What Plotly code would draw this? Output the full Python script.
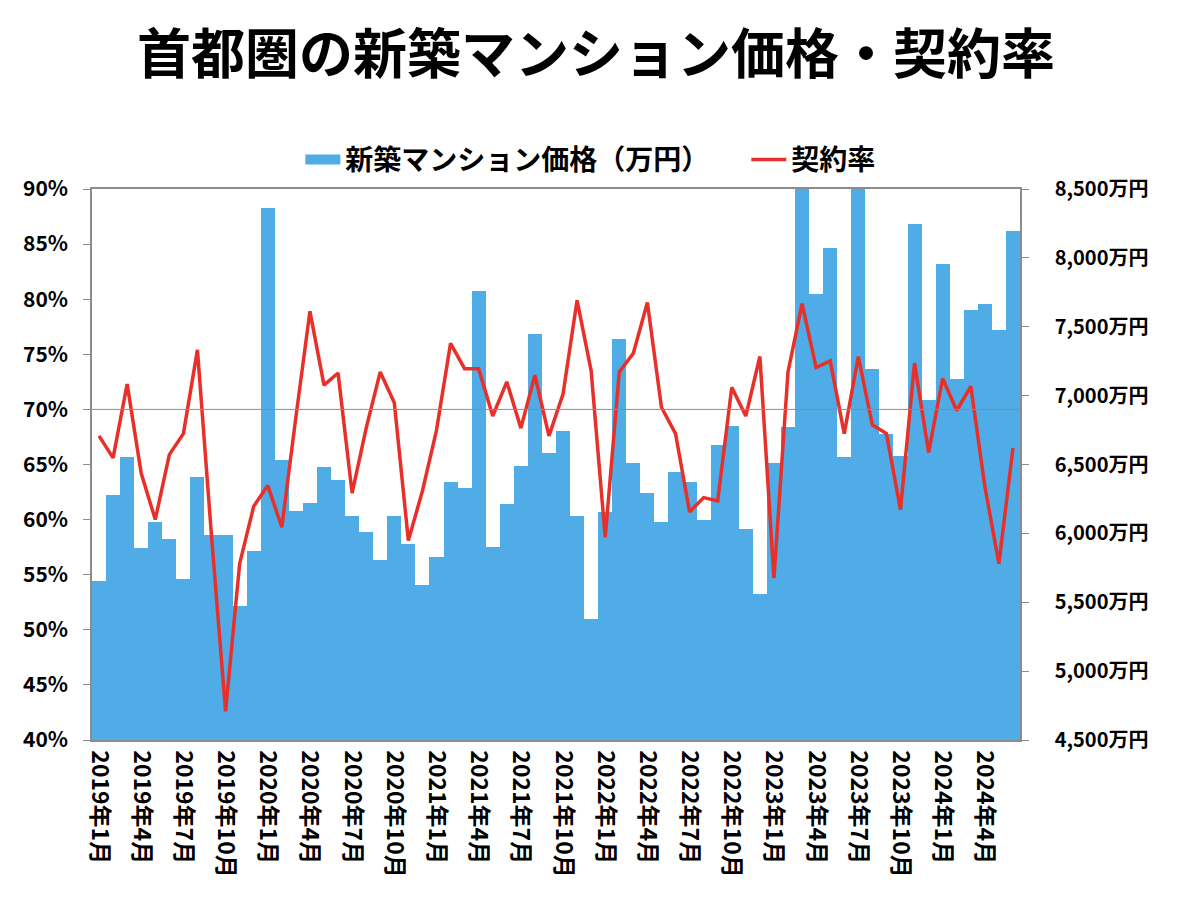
import plotly.graph_objects as go

# ---- data ----
YEARS = [2019, 2020, 2021, 2022, 2023, 2024]
MONTHS_IN_LAST_YEAR = 6
CATEGORIES = [f"{y}年{m}月" for y in YEARS for m in range(1, 13)][: 12 * 5 + MONTHS_IN_LAST_YEAR]

PRICE = [
    5655, 6281, 6553, 5895, 6085, 5958, 5670, 6408, 5990, 5990, 5470, 5874,  # 2019
    8363, 6532, 6159, 6217, 6481, 6386, 6127, 6011, 5808, 6125, 5921, 5623,  # 2020
    5826, 6376, 6328, 7758, 5900, 6215, 6489, 7446, 6582, 6746, 6125, 5380,  # 2021
    6157, 7411, 6513, 6291, 6085, 6447, 6376, 6098, 6645, 6783, 6032, 5557,  # 2022
    6513, 6772, 12962, 7739, 8072, 6553, 8873, 7190, 6725, 6561, 8244, 6968,  # 2023
    7953, 7124, 7625, 7663, 7480, 8196,                                        # 2024
]
RATE = [
    67.6, 65.6, 72.3, 64.2, 60.0, 65.9, 67.8, 75.4, 58.5, 42.6, 56.0, 61.2,  # 2019
    63.1, 59.3, 69.3, 78.9, 72.2, 73.3, 62.4, 68.3, 73.4, 70.6, 58.1, 62.6,  # 2020
    68.1, 76.0, 73.7, 73.7, 69.4, 72.5, 68.3, 73.1, 67.6, 71.4, 79.9, 73.5,  # 2021
    58.4, 73.4, 75.1, 79.7, 70.2, 67.8, 60.7, 62.0, 61.7, 72.0, 69.4, 74.8,  # 2022
    54.7, 73.4, 79.6, 73.8, 74.4, 67.8, 74.8, 68.6, 67.8, 60.9, 74.2, 66.1,  # 2023
    72.8, 69.9, 72.1, 63.0, 56.0, 66.5,                                        # 2024
]
TICK_LABELS = CATEGORIES[::3]
THRESHOLD = 70

TITLE = "首都圏の新築マンション価格・契約率"
BAR_NAME = "新築マンション価格（万円）"
LINE_NAME = "契約率"

FONT = "Noto Sans CJK JP"
BLUE = "#4FACE6"
RED = "#E8302A"
AXIS_GRAY = "#8C8C8C"

fig = go.Figure()
fig.add_trace(go.Bar(
    x=CATEGORIES, y=PRICE, name=BAR_NAME, showlegend=False,
    marker=dict(color=BLUE, line=dict(width=0)), yaxis="y",
))
# legend proxy for the bar series (wide rectangular swatch, as in the original)
fig.add_trace(go.Scatter(
    x=[None], y=[None], name=f"<b>{BAR_NAME}</b>", mode="lines",
    line=dict(color=BLUE, width=15), yaxis="y", hoverinfo="skip",
))
fig.add_trace(go.Scatter(
    x=CATEGORIES, y=RATE, name=f"<b>{LINE_NAME}</b>", mode="lines",
    line=dict(color=RED, width=3.5), yaxis="y2",
))

fig.update_layout(
    width=1192, height=898,
    paper_bgcolor="white", plot_bgcolor="white",
    margin=dict(l=92, r=172, t=189, b=158, autoexpand=False),
    bargap=0,
    font=dict(family=FONT, color="black", size=20),
    title=dict(
        text=f"<b>{TITLE}</b>", x=0.5, xanchor="center", y=0.9388, yanchor="middle",
        font=dict(family=FONT, size=54, color="black"),
    ),
    legend=dict(
        orientation="h", x=0.2245, xanchor="left", y=1.053, yanchor="middle",
        font=dict(family=FONT, size=28, color="black"),
        entrywidth=396, itemwidth=35, traceorder="normal",
        bgcolor="rgba(0,0,0,0)",
    ),
    xaxis=dict(
        type="category", categoryorder="array", categoryarray=CATEGORIES,
        tickvals=TICK_LABELS, ticktext=[f"<b>{t}</b>" for t in TICK_LABELS],
        tickangle=90, tickfont=dict(family=FONT, size=23, color="black"),
        showline=True, linecolor=AXIS_GRAY, linewidth=1.5, mirror=True,
        ticks="", showgrid=False, range=[-0.5, len(CATEGORIES) - 0.5],
        ticklabelstandoff=4, automargin=False,
    ),
    yaxis=dict(
        side="right", range=[4500, 8500], dtick=500, tickformat=",d",
        tickprefix="<b>", ticksuffix="万円</b>", showgrid=False, showline=True,
        linecolor=AXIS_GRAY, linewidth=1.5, ticks="outside", ticklen=7,
        tickcolor=AXIS_GRAY, tickfont=dict(family=FONT, size=20, color="black"),
        ticklabelstandoff=22, zeroline=False, automargin=False,
    ),
    yaxis2=dict(
        overlaying="y", side="left", range=[40, 90], dtick=5,
        tickprefix="<b>", ticksuffix="%</b>", showgrid=False, showline=True,
        linecolor=AXIS_GRAY, linewidth=1.5, ticks="outside", ticklen=7,
        tickcolor=AXIS_GRAY, tickfont=dict(family=FONT, size=21, color="black"),
        ticklabelstandoff=11, zeroline=False, automargin=False,
    ),
    shapes=[dict(
        type="line", xref="paper", x0=0, x1=1, yref="y2", y0=THRESHOLD, y1=THRESHOLD,
        line=dict(color=AXIS_GRAY, width=1), layer="above",
    )],
)

fig.write_html(
    "out.html",
    config={"displayModeBar": False},
    post_script="document.body.style.margin='0';",
)
